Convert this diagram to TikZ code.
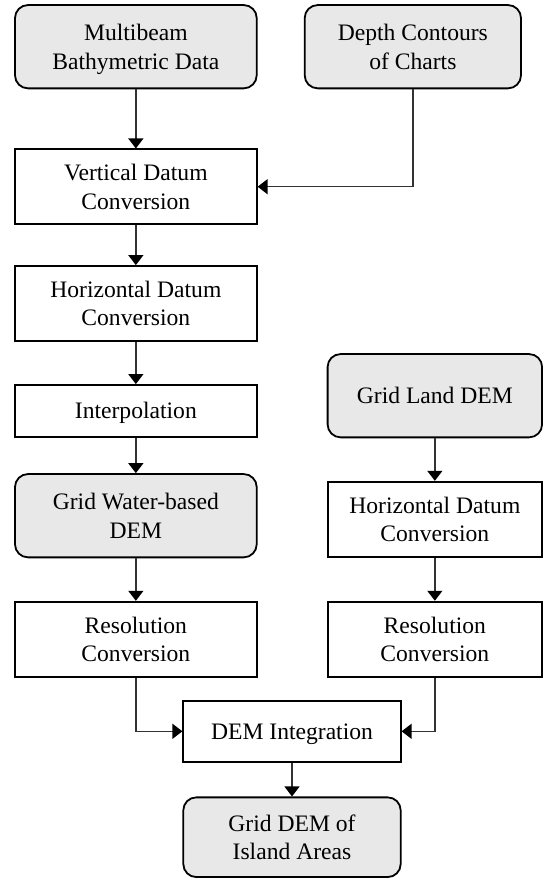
\documentclass[tikz,border=0pt]{standalone}
\usepackage{fontspec}
\setmainfont{Liberation Serif}
\usetikzlibrary{arrows.meta}
\begin{document}
\begin{tikzpicture}[x=1pt,y=-1pt,
  box/.style={draw=black, line width=1.8pt, align=center, inner sep=0pt,
    text depth=0pt, font=\fontsize{23.6}{28.3}\selectfont},
  procbox/.style={box, rectangle},
  databox/.style={box, rectangle, rounded corners=13pt, fill=black!9},
  conn/.style={draw=black!80, line width=1.3pt,
    -{Triangle[width=15pt,length=10pt,fill=black,color=black]}}
]
\useasboundingbox (0,0) rectangle (543,879);
% left column
\node[databox, minimum width=241.7pt, minimum height=83.3pt] (mb) at (135.85,46.7) {Multibeam\\Bathymetric Data};
\node[databox, minimum width=216.3pt, minimum height=83.3pt] (dc) at (412.85,46.7) {Depth Contours\\of Charts};
\node[procbox, minimum width=241.7pt, minimum height=74.7pt] (vd) at (135.85,186.7) {Vertical Datum\\Conversion};
\node[procbox, minimum width=241.7pt, minimum height=75pt] (hd) at (135.85,303.5) {Horizontal Datum\\Conversion};
\node[procbox, minimum width=241.7pt, minimum height=51.7pt] (ip) at (135.85,410.8) {Interpolation};
\node[databox, minimum width=241.7pt, minimum height=83.3pt] (gw) at (135.85,515.7) {Grid Water-based\\DEM};
\node[procbox, minimum width=241.7pt, minimum height=75pt] (rc) at (135.85,639.2) {Resolution\\Conversion};
% right column
\node[databox, minimum width=214.5pt, minimum height=83.3pt] (gl) at (434.85,395.7) {Grid Land DEM};
\node[procbox, minimum width=214.5pt, minimum height=75.6pt] (hd2) at (434.85,519.5) {Horizontal Datum\\Conversion};
\node[procbox, minimum width=214.5pt, minimum height=75.3pt] (rc2) at (434.85,639.3) {Resolution\\Conversion};
% bottom
\node[procbox, minimum width=217.4pt, minimum height=60.7pt] (di) at (292,731.3) {DEM Integration};
\node[databox, minimum width=217.4pt, minimum height=79.7pt] (gi) at (292,837.2) {Grid DEM of\\Island Areas};
% connectors
\draw[conn] (mb) -- (vd);
\draw[conn] (dc.south) |- (vd.east);
\draw[conn] (vd) -- (hd);
\draw[conn] (hd) -- (ip);
\draw[conn] (ip) -- (gw);
\draw[conn] (gw) -- (rc);
\draw[conn] (gl) -- (hd2);
\draw[conn] (hd2) -- (rc2);
\draw[conn] (rc.south) |- (di.west);
\draw[conn] (rc2.south) |- (di.east);
\draw[conn] (di) -- (gi);
\end{tikzpicture}
\end{document}
